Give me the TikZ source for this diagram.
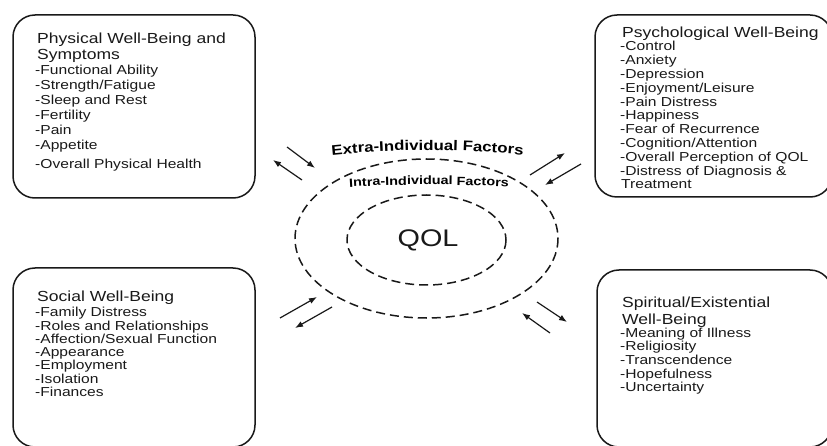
\documentclass[tikz,border=0pt]{standalone}
\usepackage{fontspec}
\setmainfont[FakeStretch=1.2]{Liberation Sans}
\usetikzlibrary{arrows.meta,decorations.text}
\newcommand\itemfont{\fontsize{13}{15}\selectfont}
\newcommand\headfont{\fontsize{14.6}{16}\selectfont}
\newcommand\extrafont{\fontsize{14}{16}\selectfont\bfseries}
\newcommand\intrafont{\fontsize{12}{14}\selectfont\bfseries}
\begin{document}
\begin{tikzpicture}[x=1pt,y=-1pt,
  box/.style={draw=black!90, line width=1.5pt, rounded corners=22pt, rectangle, inner sep=0pt},
  itm/.style={anchor=base west, inner sep=0pt, font=\itemfont, text=black!90},
  head/.style={anchor=base west, inner sep=0pt, font=\headfont, text=black!90},
  ring/.style={draw=black!90, line width=1.5pt, dash pattern=on 9pt off 5pt},
  arr/.style={draw=black!90, line width=1.2pt, -{Latex[length=8pt,width=6pt]}}]
\useasboundingbox (0,0) rectangle (827,446);
\clip (0,0) rectangle (827,446);
\fill[white] (0,0) rectangle (827,446);

% boxes
\node[box, minimum width=242pt, minimum height=183pt] (tl) at (134,106.5) {};
\node[box, minimum width=237pt, minimum height=182pt] (tr) at (713.5,106) {};
\node[box, minimum width=242pt, minimum height=179pt] (bl) at (134,357.5) {};
\node[box, minimum width=235pt, minimum height=177pt] (br) at (714.5,358.5) {};

% top-left text
\node[head] (tlh1) at (37,44) {Physical Well-Being and};
\node[head] (tlh2) at (37,60) {Symptoms};
\foreach \t [count=\i from 0] in {-Functional Ability,-Strength/Fatigue,-Sleep and Rest,-Fertility,-Pain,-Appetite}
  \node[itm] (tli\i) at (35,75+15*\i) {\t};
\node[itm] (tli6) at (35,169) {-Overall Physical Health};

% top-right text
\node[head] (trh) at (622,38) {Psychological Well-Being};
\foreach \t [count=\i from 0] in {-Control,-Anxiety,-Depression,-Enjoyment/Leisure,-Pain Distress,-Happiness,-Fear of Recurrence,-Cognition/Attention,-Overall Perception of QOL,-Distress of Diagnosis \&}
  \node[itm] (tri\i) at (620,51+13.8*\i) {\t};
\node[itm] (tri10) at (621,189) {Treatment};

% bottom-left text
\node[head] (blh) at (37,301.5) {Social Well-Being};
\foreach \t [count=\i from 0] in {-Family Distress,-Roles and Relationships,-Affection/Sexual Function,-Appearance,-Employment,-Isolation,-Finances}
  \node[itm] (bli\i) at (35,316.7+13.3*\i) {\t};

% bottom-right text
\node[head] (brh1) at (622,307) {Spiritual/Existential};
\node[head] (brh2) at (622,324) {Well-Being};
\foreach \t [count=\i from 0] in {-Meaning of Illness,-Religiosity,-Transcendence,-Hopefulness,-Uncertainty}
  \node[itm] (bri\i) at (620,337+13.7*\i) {\t};

% central rings
\draw[ring] (426.5,238.5) ellipse [x radius=131.5, y radius=79.5];
\draw[ring] (426.5,240) ellipse [x radius=79.5, y radius=45];
\node[anchor=base, inner sep=0pt, font=\fontsize{24}{26}\selectfont, text=black!90] (qol) at (428,247) {QOL};

\path[decorate, decoration={text along path, text={|\extrafont|Extra-Individual Factors}, text align=center}]
  (328,155.5) .. controls (395,148.5) and (460,148.5) .. (527,155.5);
\path[decorate, decoration={text along path, text={|\intrafont|Intra-Individual Factors}, text align=center}]
  (350,187) .. controls (400,184) and (455,184) .. (508,187);

% arrows
\coordinate (a1s) at (287,147); \coordinate (a1e) at (315,168);
\coordinate (a2s) at (302,180); \coordinate (a2e) at (273,160);
\coordinate (b1s) at (530,175); \coordinate (b1e) at (565,153);
\coordinate (b2s) at (581,164); \coordinate (b2e) at (545,185);
\coordinate (c1s) at (280,318); \coordinate (c1e) at (317,297);
\coordinate (c2s) at (332,307); \coordinate (c2e) at (295,328);
\coordinate (d1s) at (537,302); \coordinate (d1e) at (567,322);
\coordinate (d2s) at (550,333); \coordinate (d2e) at (522,313);
\draw[arr] (a1s) -- (a1e);
\draw[arr] (a2s) -- (a2e);
\draw[arr] (b1s) -- (b1e);
\draw[arr] (b2s) -- (b2e);
\draw[arr] (c1s) -- (c1e);
\draw[arr] (c2s) -- (c2e);
\draw[arr] (d1s) -- (d1e);
\draw[arr] (d2s) -- (d2e);
\end{tikzpicture}
\end{document}
